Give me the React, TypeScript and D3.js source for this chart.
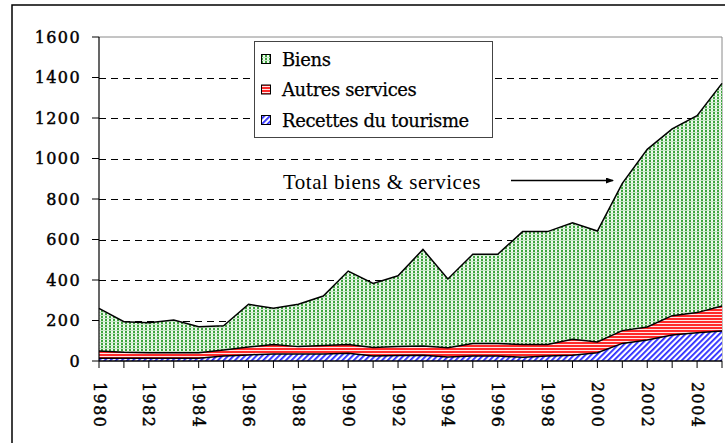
import React from "react";
import * as d3 from "d3";

// Years on the horizontal axis
const years: number[] = d3.range(1980, 2006);

// Stacked components (millions), bottom to top
const tourisme: number[] = [13, 13, 13, 13, 13, 25, 30, 35, 34, 34, 38, 25, 27, 28, 20, 25, 25, 18, 25, 28, 41, 87, 104, 128, 140, 148];
const autresServices: number[] = [36, 30, 28, 28, 28, 29, 39, 47, 37, 42, 44, 42, 45, 46, 46, 61, 61, 63, 56, 79, 53, 63, 64, 96, 99, 124];
const biens: number[] = [211, 151, 148, 161, 128, 120, 211, 178, 209, 245, 362, 316, 349, 477, 339, 441, 441, 558, 558, 576, 548, 727, 877, 922, 972, 1099];

const yTicks: number[] = [0, 200, 400, 600, 800, 1000, 1200, 1400, 1600];
const yearLabels: number[] = d3.range(1980, 2005, 2);

const seriesKeys = ["tourisme", "autres", "biens"] as const;
const legendItems = [
  { key: "biens", label: "Biens", fill: "url(#pat-biens)" },
  { key: "autres", label: "Autres services", fill: "url(#pat-autres)" },
  { key: "tourisme", label: "Recettes du tourisme", fill: "url(#pat-tourisme)" },
];

const W = 725;
const H = 443;
const left = 99;
const right = 722;
const top = 37;
const bottom = 361;

const numFont = "'DejaVu Serif', serif";
const textFont = "'DejaVu Serif', serif";

export default function App() {
  const x = d3.scaleLinear().domain([1980, 2005]).range([left, right]);
  const y = d3.scaleLinear().domain([0, 1600]).range([bottom, top]);

  const rows = years.map((yr, i) => ({
    year: yr,
    tourisme: tourisme[i],
    autres: autresServices[i],
    biens: biens[i],
  }));
  const stacked = d3.stack<any>().keys(seriesKeys as unknown as string[])(rows);

  const area = d3
    .area<any>()
    .x((d) => x(d.data.year))
    .y0((d) => y(d[0]))
    .y1((d) => y(d[1]));
  const topLine = d3
    .line<any>()
    .x((d) => x(d.data.year))
    .y((d) => y(d[1]));

  const fills: Record<string, string> = {
    tourisme: "url(#pat-tourisme)",
    autres: "url(#pat-autres)",
    biens: "url(#pat-biens)",
  };

  return (
    <svg
      width={W}
      height={H}
      style={{ position: "absolute", left: 0, top: 0, background: "#fff" }}
    >
      <defs>
        <pattern id="pat-biens" width={4} height={3} patternUnits="userSpaceOnUse">
          <rect width={4} height={3} fill="#f2faf2" />
          <rect x={0} y={0} width={4} height={1} fill="#c6e6c6" />
          <rect x={1} y={1} width={2} height={2} fill="#3ea53e" />
        </pattern>
        <pattern id="pat-autres" width={4} height={3} patternUnits="userSpaceOnUse">
          <rect width={4} height={3} fill="#ff2a2a" />
          <rect x={0} y={2} width={4} height={1} fill="#ffe6e6" />
        </pattern>
        <pattern
          id="pat-tourisme"
          width={4}
          height={4}
          patternUnits="userSpaceOnUse"
          patternTransform="rotate(45)"
        >
          <rect width={4} height={4} fill="#ffffff" />
          <rect x={0} y={0} width={1.8} height={4} fill="#2a2aff" />
        </pattern>
      </defs>

      {/* outer frame */}
      <path d={`M12,${H + 5} V5 H${W + 5}`} fill="none" stroke="#000" strokeWidth={1.5} />

      {/* plot area top and right border */}
      <path d={`M${left},${top} H${right} V${bottom}`} fill="none" stroke="#8a8a8a" strokeWidth={1} />

      {/* dashed gridlines */}
      {yTicks
        .filter((t) => t > 0 && t < 1600)
        .map((t) => (
          <line
            key={t}
            x1={left}
            x2={right}
            y1={Math.round(y(t)) + 0.5}
            y2={Math.round(y(t)) + 0.5}
            stroke="#000"
            strokeWidth={1}
            strokeDasharray="7 5"
          />
        ))}

      {/* stacked areas */}
      {stacked.map((s) => (
        <path key={s.key} d={area(s) as string} fill={fills[s.key]} stroke="none" />
      ))}
      {stacked.map((s) => (
        <path key={s.key + "-line"} d={topLine(s) as string} fill="none" stroke="#000" strokeWidth={1.5} />
      ))}

      {/* y axis */}
      <line x1={left} x2={left} y1={top} y2={bottom} stroke="#000" strokeWidth={1.2} />
      {yTicks.map((t) => (
        <g key={t}>
          <line x1={left - 7} x2={left} y1={y(t)} y2={y(t)} stroke="#000" strokeWidth={1} />
          <text
            x={81}
            y={y(t)}
            textAnchor="end"
            dominantBaseline="central"
            fontFamily={numFont}
            fontSize={16}
            letterSpacing={1.4}
            fill="#000"
            stroke="#000"
            strokeWidth={0.45}
          >
            {t}
          </text>
        </g>
      ))}

      {/* x axis */}
      <line x1={left} x2={right} y1={bottom} y2={bottom} stroke="#000" strokeWidth={1.5} />
      {years.map((yr) => (
        <line key={yr} x1={x(yr)} x2={x(yr)} y1={bottom} y2={bottom + 7} stroke="#000" strokeWidth={1} />
      ))}
      {yearLabels.map((yr) => (
        <text
          key={yr}
          transform={`translate(${x(yr)},382) rotate(90)`}
          textAnchor="start"
          dominantBaseline="central"
          fontFamily={numFont}
          fontSize={16}
          letterSpacing={1.4}
          fill="#000"
          stroke="#000"
          strokeWidth={0.45}
        >
          {yr}
        </text>
      ))}

      {/* legend */}
      <rect x={254.5} y={41.5} width={238} height={96} fill="#fff" stroke="#444" strokeWidth={1} />
      {legendItems.map((item, i) => {
        const cy = 59 + i * 30.5;
        return (
          <g key={item.key}>
            <rect x={261.5} y={cy - 4.5} width={9} height={9} fill={item.fill} stroke="#000" strokeWidth={1} />
            <text
              x={282}
              y={cy}
              dominantBaseline="central"
              fontFamily={textFont}
              fontSize={18}
              letterSpacing={-0.4}
              fill="#000"
              stroke="#000"
              strokeWidth={0.25}
            >
              {item.label}
            </text>
          </g>
        );
      })}

      {/* annotation */}
      <text
        x={283}
        y={189}
        fontFamily="'Liberation Serif', serif"
        fontSize={21}
        letterSpacing={0.5}
        fill="#000"
      >
        Total biens &amp; services
      </text>
      <defs>
        <marker id="arrowhead" markerWidth={8} markerHeight={6} refX={7} refY={3} orient="auto" markerUnits="userSpaceOnUse">
          <path d="M0,0 L8,3 L0,6 Z" fill="#000" />
        </marker>
      </defs>
      <line x1={511} x2={613} y1={180.5} y2={180.5} stroke="#000" strokeWidth={1.3} markerEnd="url(#arrowhead)" />
    </svg>
  );
}
